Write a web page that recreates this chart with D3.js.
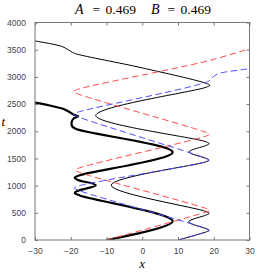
<!DOCTYPE html>
<html><head><meta charset="utf-8">
<script src="https://cdn.jsdelivr.net/npm/d3@7"></script>
<style>body{margin:0;background:#fff}svg{display:block}</style>
</head><body>
<svg id="c" width="275" height="275"></svg>
<script>
// ---- data ----
const xTicks = [-30, -20, -10, 0, 10, 20, 30];
const tTicks = [0, 500, 1000, 1500, 2000, 2500, 3000, 3500, 4000];
const titleA = "0.469";
const titleB = "0.469";

// thick black (soliton 1)
const thickX = [-10, 8.5, -17.5, -18.9, -18.0, -13, -18.0, -18.9, -17.5, 8.5, -18.5, -19.6, -19.7, -19.2, -17.9, -19.3, -20.5, -22, -25, -30];
const thickT = [0, 345, 820, 865, 905, 1008, 1105, 1145, 1190, 1615, 2040, 2090, 2180, 2235, 2275, 2310, 2360, 2410, 2460, 2525];
// thin black (soliton 2)
const thinX = [10, 17.9, 18.7, 17.9, 13.0, 17.9, 18.7, 17.9, -8.7, 17.9, 18.7, 17.9, 13.1, 17.9, 18.7, 17.9, -13, 17.9, 18.9, 17.9, 0, -18.3, -19.5, -20.5, -22.5, -30];
const thinT = [0, 150, 178, 208, 335, 460, 490, 522, 1008, 1440, 1470, 1500, 1620, 1740, 1772, 1805, 2290, 2810, 2845, 2880, 3165, 3420, 3450, 3490, 3560, 3660];
// red dashed (free trajectory 1)
const redX = [-10, 18.0, 18.8, 18.0, -18.0, -18.7, -18.0, 18.0, 18.8, 18.0, -18.5, -19.2, -18.5, 18.7, 30];
const redT = [0, 520, 545, 575, 1255, 1285, 1315, 1915, 1945, 1975, 2700, 2730, 2760, 3300, 3520];
// blue dashed (free trajectory 2)
const blueX = [10, 17.9, 18.7, 17.9, -18.3, -19.0, -18.3, 17.9, 18.7, 17.9, -18.5, -19.2, -18.5, 18.5, 19.5, 20.9, 22.9, 30];
const blueT = [0, 150, 178, 208, 925, 955, 985, 1440, 1470, 1500, 2280, 2310, 2340, 2920, 2980, 3050, 3085, 3150];

// ---- chart ----
const svg = d3.select("#c");
const L = 35, R = 249.5, T = 22.5, B = 240;
const x = d3.scaleLinear().domain([-30, 30]).range([L, R]);
const y = d3.scaleLinear().domain([0, 4000]).range([B, T]);
const frameCol = "#777";

svg.append("defs").append("clipPath").attr("id", "clip")
  .append("rect").attr("x", L).attr("y", T).attr("width", R - L).attr("height", B - T);

const line = d3.line().x(d => x(d[0])).y(d => y(d[1])).curve(d3.curveCatmullRom.alpha(0.5));
const zip = (a, b) => a.map((v, i) => [v, b[i]]);

const g = svg.append("g").attr("clip-path", "url(#clip)");
g.append("path").attr("d", line(zip(thickX, thickT))).attr("fill", "none").attr("stroke", "#000").attr("stroke-width", 2.2).attr("stroke-linejoin", "round");
g.append("path").attr("d", line(zip(thinX, thinT))).attr("fill", "none").attr("stroke", "#000").attr("stroke-width", 1);
g.append("path").attr("d", line(zip(redX, redT))).attr("fill", "none").attr("stroke", "#ff4d4d").attr("stroke-width", 1).attr("stroke-dasharray", "6.5,3.5");
g.append("path").attr("d", line(zip(blueX, blueT))).attr("fill", "none").attr("stroke", "#4d4dff").attr("stroke-width", 1).attr("stroke-dasharray", "6.5,3.5");

// axes
function styleAxis(sel) {
  sel.select(".domain").remove();
  sel.selectAll(".tick line").attr("stroke", frameCol);
  sel.selectAll(".tick text").attr("fill", "#444").style("font-family", "'Liberation Sans', Arial, sans-serif").style("font-size", "8.5px");
}
const fmt = d3.format("d");
svg.append("g").attr("transform", `translate(0,${B})`)
  .call(d3.axisBottom(x).tickValues(xTicks).tickFormat(fmt).tickSizeInner(-3).tickSizeOuter(0).tickPadding(8))
  .call(styleAxis);
svg.append("g").attr("transform", `translate(0,${T})`)
  .call(d3.axisTop(x).tickValues(xTicks).tickSizeInner(-3).tickSizeOuter(0).tickFormat(""))
  .call(styleAxis);
svg.append("g").attr("transform", `translate(${L},0)`)
  .call(d3.axisLeft(y).tickValues(tTicks).tickFormat(fmt).tickSizeInner(-3).tickSizeOuter(0).tickPadding(9))
  .call(styleAxis);
svg.append("g").attr("transform", `translate(${R},0)`)
  .call(d3.axisRight(y).tickValues(tTicks).tickSizeInner(-3).tickSizeOuter(0).tickFormat(""))
  .call(styleAxis);

svg.append("rect").attr("x", L).attr("y", T).attr("width", R - L).attr("height", B - T)
  .attr("fill", "none").attr("stroke", frameCol).attr("stroke-width", 1);

// title
const serif = "'Liberation Serif', 'Times New Roman', serif";
const tt = svg.append("g").style("font-family", serif).style("font-size", "13.5px").attr("fill", "#000");
tt.append("text").attr("x", 75).attr("y", 13.5).style("font-style", "italic").style("font-size", "14px").text("A");
tt.append("text").attr("x", 92.5).attr("y", 13.5).text("=");
tt.append("text").attr("x", 105.5).attr("y", 13.5).text(titleA);
tt.append("text").attr("x", 151).attr("y", 13.5).style("font-style", "italic").style("font-size", "14px").text("B");
tt.append("text").attr("x", 167.5).attr("y", 13.5).text("=");
tt.append("text").attr("x", 180.5).attr("y", 13.5).text(titleB);

// axis labels
svg.append("text").attr("x", (L + R) / 2).attr("y", 268).attr("text-anchor", "middle")
  .style("font-family", serif).style("font-style", "italic").style("font-size", "13px").text("x");
svg.append("text").attr("x", 1.5).attr("y", 126)
  .style("font-family", serif).style("font-style", "italic").style("font-size", "13px").text("t");
</script>
</body></html>
